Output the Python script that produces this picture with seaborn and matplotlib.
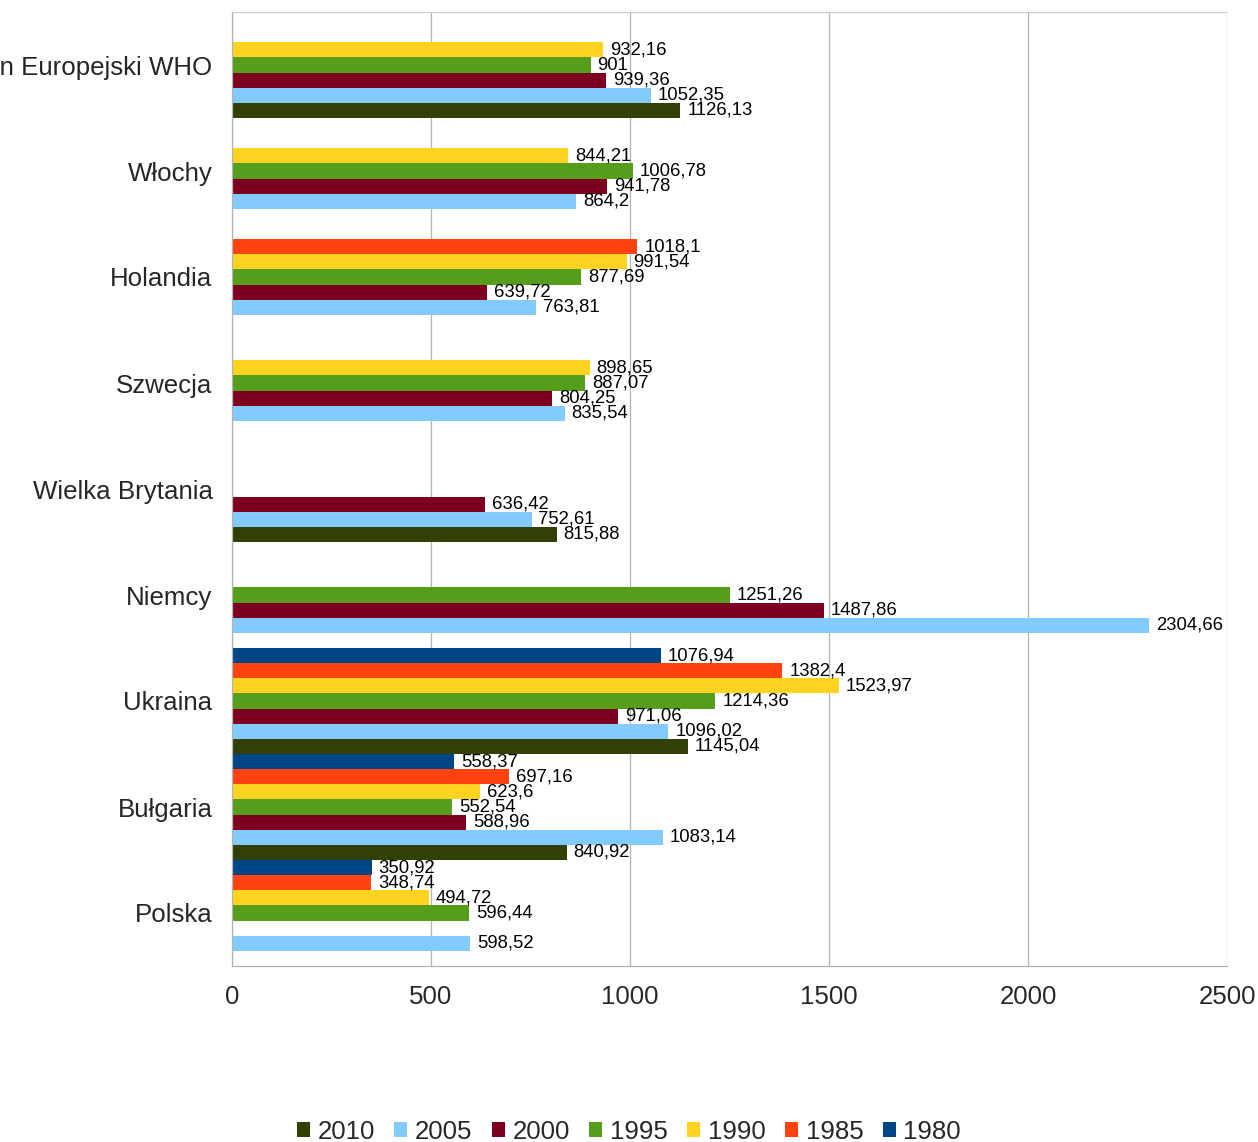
import numpy as np
import pandas as pd
import matplotlib
matplotlib.use('Agg')
import matplotlib.pyplot as plt
from matplotlib.patches import Patch
import seaborn as sns

# categories listed top to bottom
countries = ['Region Europejski WHO', 'Włochy', 'Holandia', 'Szwecja',
             'Wielka Brytania', 'Niemcy', 'Ukraina', 'Bułgaria', 'Polska']
years = ['1980', '1985', '1990', '1995', '2000', '2005', '2010']

nan = np.nan
v1980 = [nan, nan, nan, nan, nan, nan, 1076.94, 558.37, 350.92]
v1985 = [nan, nan, 1018.1, nan, nan, nan, 1382.4, 697.16, 348.74]
v1990 = [932.16, 844.21, 991.54, 898.65, nan, nan, 1523.97, 623.6, 494.72]
v1995 = [901, 1006.78, 877.69, 887.07, nan, 1251.26, 1214.36, 552.54, 596.44]
v2000 = [939.36, 941.78, 639.72, 804.25, 636.42, 1487.86, 971.06, 588.96, nan]
v2005 = [1052.35, 864.2, 763.81, 835.54, 752.61, 2304.66, 1096.02, 1083.14, 598.52]
v2010 = [1126.13, nan, nan, nan, 815.88, nan, 1145.04, 840.92, nan]

colors = {'1980': '#004586', '1985': '#ff420e', '1990': '#ffd320',
          '1995': '#579d1c', '2000': '#7e0021', '2005': '#83caff',
          '2010': '#314004'}

series = dict(zip(years, [v1980, v1985, v1990, v1995, v2000, v2005, v2010]))
rows = []
for yr, vals in series.items():
    for c, v in zip(countries, vals):
        rows.append({'kraj': c, 'rok': yr, 'wartosc': v})
df = pd.DataFrame(rows).dropna()

sns.set_style('white')
plt.rcParams['font.family'] = ['Liberation Sans', 'DejaVu Sans']

fig = plt.figure(figsize=(12.58, 11.42), dpi=100)
ax = fig.add_axes([232/1258, 1-966/1142, (1227-232)/1258, (966-12)/1142])

sns.barplot(data=df, y='kraj', x='wartosc', hue='rok', order=countries,
            hue_order=years, palette=colors, orient='h', width=1.0,
            linewidth=0, saturation=1, legend=False, ax=ax)

def fmt(v):
    return '{:g}'.format(v).replace('.', ',')

for cont in ax.containers:
    labels = [fmt(b.get_width()) for b in cont]
    ax.bar_label(cont, labels=labels, padding=5, fontsize=13.3, color='black')

ax.set_xlim(0, 2500)
ax.set_ylim(len(countries) - 0.5, -0.5)
ax.set_xticks(range(0, 2501, 500))
ax.set_xlabel('')
ax.set_ylabel('')

grid_c = '#b3b3b3'
ax.grid(axis='x', color=grid_c, linewidth=0.9)
ax.grid(axis='y', visible=False)
ax.set_axisbelow(True)

ax.set_yticks(np.arange(-0.5, len(countries), 1.0), minor=True)
ax.tick_params(axis='y', which='major', length=0, pad=14, labelsize=18.6)
ax.tick_params(axis='y', which='minor', length=7.5, width=0.9, color=grid_c, direction='out')
ax.tick_params(axis='x', which='major', length=7.5, width=0.9, color=grid_c,
               direction='out', pad=6, labelsize=18.6)

for s in ['left', 'bottom']:
    ax.spines[s].set_color(grid_c)
    ax.spines[s].set_linewidth(0.9)
ax.spines['top'].set_color('#d0d0d0')
ax.spines['top'].set_linewidth(0.9)
ax.spines['right'].set_visible(False)

handles = [Patch(facecolor=colors[y], edgecolor='none', label=y) for y in reversed(years)]
fig.legend(handles=handles, loc='center', bbox_to_anchor=(0.5, 1-1132/1142),
           ncol=7, frameon=False, fontsize=18.6, handlelength=0.5, handleheight=0.5,
           handletextpad=0.3, columnspacing=0.75, borderaxespad=0)

fig.savefig('out.png', dpi=100)
